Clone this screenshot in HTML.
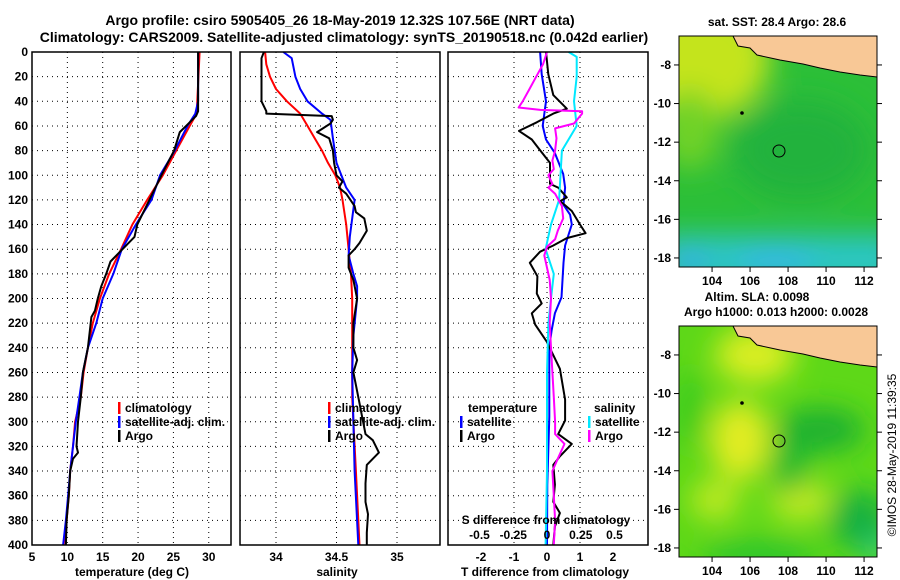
<!DOCTYPE html>
<html><head><meta charset="utf-8">
<style>
html,body{margin:0;padding:0;background:#fff;}
svg{display:block;font-family:"Liberation Sans",Arial,sans-serif;}
.t{font-weight:bold;font-size:12px;fill:#000;}
.ti{font-weight:bold;font-size:14px;fill:#000;}
</style></head>
<body>
<svg id="chart" width="900" height="580" viewBox="0 0 900 580" xmlns="http://www.w3.org/2000/svg">
<defs>
<filter id="blur1" x="-50%" y="-50%" width="200%" height="200%"><feGaussianBlur stdDeviation="14"/></filter>
<clipPath id="clipTop"><rect x="679" y="36" width="198" height="231"/></clipPath>
<clipPath id="clipBot"><rect x="679" y="326" width="198" height="231"/></clipPath>
</defs>
<text class="ti" x="340" y="25" text-anchor="middle">Argo profile: csiro 5905405_26 18-May-2019 12.32S 107.56E (NRT data)</text>
<text class="ti" x="344" y="42" text-anchor="middle">Climatology: CARS2009. Satellite-adjusted climatology: synTS_20190518.nc (0.042d earlier)</text>

<g>
<text class="t" x="777" y="26" text-anchor="middle">sat. SST: 28.4 Argo: 28.6</text>
<g clip-path="url(#clipTop)">
<rect x="679" y="36" width="198" height="231" fill="#2cbf38"/>
<g filter="url(#blur1)">
<ellipse cx="700" cy="60" rx="70" ry="60" fill="#c4e41e"/>
<ellipse cx="690" cy="130" rx="30" ry="40" fill="#70d228"/>
<ellipse cx="800" cy="150" rx="70" ry="50" fill="#22b23c"/>
<rect x="660" y="235" width="240" height="50" fill="#2ac6c4"/>
<ellipse cx="775" cy="262" rx="40" ry="10" fill="#38b4f0"/>
<ellipse cx="690" cy="262" rx="20" ry="8" fill="#3aa0f0"/>
</g>
<polygon points="733,36 877,36 877,77 860,75 840,72 820,68 803,64 780,60 757,55 750,48 738,46" fill="#f8c896" stroke="#000" stroke-width="1"/>
<circle cx="742" cy="113" r="1.8" fill="#000"/>
<circle cx="779" cy="151" r="6" fill="none" stroke="#000" stroke-width="1"/>
</g>
<rect x="679" y="36" width="198" height="231" fill="none" stroke="#000" stroke-width="1"/>
</g>
<g>
<text class="t" x="757" y="301" text-anchor="middle">Altim. SLA: 0.0098</text>
<text class="t" x="776" y="316" text-anchor="middle">Argo h1000: 0.013 h2000: 0.0028</text>
<g clip-path="url(#clipBot)">
<rect x="679" y="326" width="198" height="231" fill="#5ed818"/>
<g filter="url(#blur1)">
<ellipse cx="755" cy="355" rx="40" ry="28" fill="#daee20"/>
<ellipse cx="740" cy="440" rx="30" ry="40" fill="#e2ec22"/>
<ellipse cx="800" cy="500" rx="30" ry="20" fill="#c8ec20"/>
<ellipse cx="715" cy="500" rx="25" ry="20" fill="#c0ea20"/>
<ellipse cx="820" cy="430" rx="45" ry="22" fill="#1ab030"/>
<ellipse cx="790" cy="465" rx="18" ry="30" fill="#22b830"/>
<ellipse cx="860" cy="520" rx="30" ry="30" fill="#14b040"/>
<ellipse cx="690" cy="410" rx="12" ry="40" fill="#30c820"/>
<ellipse cx="760" cy="555" rx="60" ry="12" fill="#22c030"/>
<ellipse cx="877" cy="550" rx="10" ry="12" fill="#20d0a0"/>
</g>
<polygon points="733,326 877,326 877,367 860,365 840,362 820,358 803,354 780,350 757,345 750,338 738,336" fill="#f8c896" stroke="#000" stroke-width="1"/>
<circle cx="742" cy="403" r="1.8" fill="#000"/>
<circle cx="779" cy="441" r="6" fill="none" stroke="#000" stroke-width="1"/>
</g>
<rect x="679" y="326" width="198" height="231" fill="none" stroke="#000" stroke-width="1"/>
</g>
<text transform="translate(896,455) rotate(-90)" text-anchor="middle" font-size="12" fill="#000">©IMOS 28-May-2019 11:39:35</text>
<g id="dyn"></g>
</svg>
<script>
var depthTicks = [0,20,40,60,80,100,120,140,160,180,200,220,240,260,280,300,320,340,360,380,400];
var tempTicks = [5,10,15,20,25,30];
var salTicks = [34,34.5,35];
var tdiffTicks = [-2,-1,0,1,2];
var sdiffTicks = [-0.5,-0.25,0,0.25,0.5];
var sdiffTickLabels = ["-0.5","-0.25","0","0.25","0.5"];

var tClimDepth = [0,50,60,80,100,120,140,160,180,200,220,240,260,280,300,320,340,360,380,400];
var tClimVal   = [28.7,28.3,27.3,25.4,23.5,21.3,19.2,17.6,15.9,14.6,13.6,12.9,12.3,11.9,11.1,10.8,10.4,10.2,9.9,9.7];
var tSatDepth = [0,40,50,60,80,100,120,140,160,180,200,220,240,260,280,300,320,340,360,380,400];
var tSatVal   = [28.5,28.5,28.1,27.0,25.2,23.1,21.9,19.7,17.7,16.5,15.0,14.1,12.9,12.2,11.7,11.2,10.8,10.4,10.1,9.8,9.4];
var tArgoDepth = [0,48,52,60,65,80,100,120,140,150,160,170,180,190,200,210,215,240,260,280,300,320,325,330,340,360,380,400];
var tArgoVal   = [28.5,28.5,28.2,26.8,25.9,25.1,23.3,21.6,19.9,19.5,17.8,16.1,15.5,14.8,14.3,13.9,13.4,12.9,12.2,11.9,11.5,11.3,11.5,10.8,10.4,10.2,9.9,9.8];

var sClimDepth = [0,10,20,30,40,50,60,70,80,90,100,110,120,140,160,180,200,280,300,340,360,400];
var sClimVal   = [33.91,33.92,33.95,34.0,34.09,34.2,34.26,34.32,34.38,34.43,34.49,34.53,34.55,34.58,34.6,34.62,34.63,34.63,34.64,34.66,34.67,34.69];
var sSatDepth = [0,5,20,30,40,50,55,70,90,110,120,150,165,180,190,200,230,260,300,340,400];
var sSatVal   = [34.06,34.13,34.16,34.2,34.26,34.38,34.45,34.47,34.5,34.58,34.65,34.61,34.6,34.64,34.67,34.67,34.64,34.63,34.64,34.65,34.68];
var sArgoDepth = [0,5,40,48,50,52,55,58,65,70,80,90,100,105,110,115,125,130,135,145,155,160,165,175,185,200,220,240,250,260,280,300,310,315,325,335,350,365,375,390,400];
var sArgoVal   = [33.9,33.88,33.88,33.92,33.92,34.46,34.47,34.45,34.34,34.44,34.47,34.48,34.5,34.55,34.52,34.58,34.65,34.66,34.73,34.75,34.69,34.65,34.6,34.6,34.64,34.67,34.64,34.64,34.67,34.64,34.68,34.72,34.74,34.8,34.85,34.75,34.74,34.74,34.76,34.75,34.75];

var dtSatDepth = [0,18,40,60,71,82,99,110,124,132,140,157,171,199,212,226,240,268,296,351,400];
var dtSatVal   = [-0.21,-0.16,-0.03,-0.13,-0.03,0.24,0.49,0.55,0.5,0.7,0.75,0.55,0.5,0.44,0.24,0.14,0.07,0.07,0.07,0.01,0.0];
var dtArgoDepth = [0,18,35,46,50,57,64,71,79,90,107,110,118,121,129,140,147,151,157,162,171,182,196,204,212,221,235,257,282,299,310,318,328,335,351,365,374,385,400];
var dtArgoVal   = [-0.03,0.04,0.19,0.6,0.19,-0.31,-0.85,-0.46,-0.23,0.09,0.09,0.34,0.6,0.4,0.75,1.0,1.17,0.6,0.19,-0.21,-0.52,-0.29,-0.31,-0.16,-0.46,-0.36,-0.01,0.39,0.55,0.55,0.34,0.75,0.39,0.19,0.24,0.19,0.39,0.24,0.19];
var dsSatDepth = [0,4,20,40,60,80,100,120,140,160,180,200,220,260,300,340,400];
var dsSatVal   = [0.16,0.22,0.22,0.2,0.22,0.11,0.1,0.09,0.03,-0.01,0.05,0.03,0.01,0.0,0.0,0.0,-0.01];
var dsArgoDepth = [0,10,20,30,40,45,47,48,50,58,62,70,80,88,95,100,107,110,115,125,135,145,152,158,165,175,185,200,220,240,260,280,300,310,318,330,340,360,380,400];
var dsArgoVal   = [0,-0.03,-0.08,-0.13,-0.18,-0.21,-0.05,0.26,0.26,0.2,0.06,0.07,0.06,0.04,0.05,0.01,0.04,0.01,0.06,0.11,0.12,0.08,0.06,0.0,-0.02,0.0,0.02,0.03,0.02,0.03,0.04,0.05,0.06,0.06,0.13,0.08,0.04,0.05,0.06,0.05];

var NS = "http://www.w3.org/2000/svg";
var g = document.getElementById('dyn');
function Y(d){ return 52 + d*1.2325; }
var P1 = {x0:32, x1:231, f:function(v){return 32+(v-5)*7.07;}};
var P2 = {x0:240, x1:440, f:function(v){return 276+(v-34)*121;}};
var P3 = {x0:448, x1:648, f:function(v){return 547+v*33;}};
function SX(v){ return 547+v*135; }
function el(tag, attrs, parent){ var e=document.createElementNS(NS,tag); for(var k in attrs) e.setAttribute(k, attrs[k]); (parent||g).appendChild(e); return e; }
function txt(x,y,s,anchor,parent){ var e=el('text',{x:x,y:y,'class':'t','text-anchor':anchor||'middle'},parent); e.textContent=s; return e; }

function panel(P, name, xt, fx){
  var pg = el('g',{});
  
  
  depthTicks.forEach(function(d){
    if(d===0||d===400) return;
    var l = el('line',{x1:P.x0,x2:P.x1,y1:Y(d),y2:Y(d),stroke:'#000','stroke-width':1,'stroke-dasharray':'1,4'},pg);
    
    
  });
  xt.forEach(function(v){
    var l = el('line',{x1:fx(v),x2:fx(v),y1:Y(0),y2:Y(400),stroke:'#000','stroke-width':1,'stroke-dasharray':'1,4'},pg);
    
    
  });
  return pg;
}
function frame(P,name){
  var r = el('rect',{x:P.x0,y:Y(0),width:P.x1-P.x0,height:Y(400)-Y(0),fill:'none',stroke:'#000','stroke-width':1.5});
  
  
}
function series(depths, vals, fx, color, name){
  var pts = depths.map(function(d,i){ return fx(vals[i]).toFixed(1)+','+Y(d).toFixed(1); }).join(' ');
  var p = el('polyline',{points:pts,fill:'none',stroke:color,'stroke-width':2,'stroke-linejoin':'round'});
  
  
}
function legendEntry(x,y,color,label,name){
  var lg = el('g',{});
  
  
  el('rect',{x:x,y:y-10,width:2.5,height:12,fill:color},lg);
  txt(x+7,y,label,'start',lg);
}

panel(P1,'temperature-panel-grid',tempTicks.slice(1),P1.f);
panel(P2,'salinity-panel-grid',salTicks,P2.f);
panel(P3,'difference-panel-grid',[-1,0,1],P3.f);

series(tClimDepth,tClimVal,P1.f,'#ff0000','temp-climatology-line');
series(tSatDepth,tSatVal,P1.f,'#0000ff','temp-satellite-line');
series(tArgoDepth,tArgoVal,P1.f,'#000000','temp-argo-line');
series(sClimDepth,sClimVal,P2.f,'#ff0000','sal-climatology-line');
series(sSatDepth,sSatVal,P2.f,'#0000ff','sal-satellite-line');
series(sArgoDepth,sArgoVal,P2.f,'#000000','sal-argo-line');
series(dtSatDepth,dtSatVal,P3.f,'#0000ff','tdiff-satellite-line');
series(dtArgoDepth,dtArgoVal,P3.f,'#000000','tdiff-argo-line');
series(dsSatDepth,dsSatVal,SX,'#00e8ff','sdiff-satellite-line');
series(dsArgoDepth,dsArgoVal,SX,'#ff00ff','sdiff-argo-line');

frame(P1,'temperature-panel-frame');
frame(P2,'salinity-panel-frame');
frame(P3,'difference-panel-frame');

depthTicks.forEach(function(d){
  var t = txt(28, Y(d)+4, String(d), 'end');
  
  
});
tempTicks.forEach(function(v){
  var t = txt(P1.f(v), 561, String(v));
  
  
});
salTicks.forEach(function(v){
  var t = txt(P2.f(v), 561, String(v));
  
  
});
tdiffTicks.forEach(function(v){
  var t = txt(P3.f(v), 561, String(v));
  
  
});
sdiffTicks.forEach(function(v,i){
  var t = txt(SX(v), 539, sdiffTickLabels[i]);
  
  
});
var a1 = txt(132,576,'temperature (deg C)');  
var a2 = txt(337,576,'salinity');  
var a3 = txt(545,576,'T difference from climatology');  
var a4 = txt(546,524,'S difference from climatology');  

legendEntry(118,412,'#ff0000','climatology','legend-temp-climatology');
legendEntry(118,426,'#0000ff','satellite-adj. clim.','legend-temp-satellite');
legendEntry(118,440,'#000000','Argo','legend-temp-argo');
legendEntry(328,412,'#ff0000','climatology','legend-sal-climatology');
legendEntry(328,426,'#0000ff','satellite-adj. clim.','legend-sal-satellite');
legendEntry(328,440,'#000000','Argo','legend-sal-argo');
var lh1 = txt(468,412,'temperature','start');  
legendEntry(460,426,'#0000ff','satellite','legend-tdiff-satellite');
legendEntry(460,440,'#000000','Argo','legend-tdiff-argo');
var lh2 = txt(594,412,'salinity','start');  
legendEntry(588,426,'#00e8ff','satellite','legend-sdiff-satellite');
legendEntry(588,440,'#ff00ff','Argo','legend-sdiff-argo');

var lats = [-8,-10,-12,-14,-16,-18];
var lons = [104,106,108,110,112];
function mapAxes(top, name){
  function my(l){ return top + (-6.5 - l)*19.3; }
  function mx(l){ return 679 + (l-102.26)*19; }
  lats.forEach(function(l){
    el('line',{x1:674,x2:679,y1:my(l),y2:my(l),stroke:'#000'});
    el('line',{x1:877,x2:882,y1:my(l),y2:my(l),stroke:'#000'});
    var t = txt(671,my(l)+4,String(l),'end');
    
    
  });
  lons.forEach(function(l){
    el('line',{x1:mx(l),x2:mx(l),y1:top+231,y2:top+236,stroke:'#000'});
    var t = txt(mx(l),top+249,String(l));
    
    
  });
}
mapAxes(36,'sst-map');
mapAxes(326,'sla-map');
</script>
</body></html>
